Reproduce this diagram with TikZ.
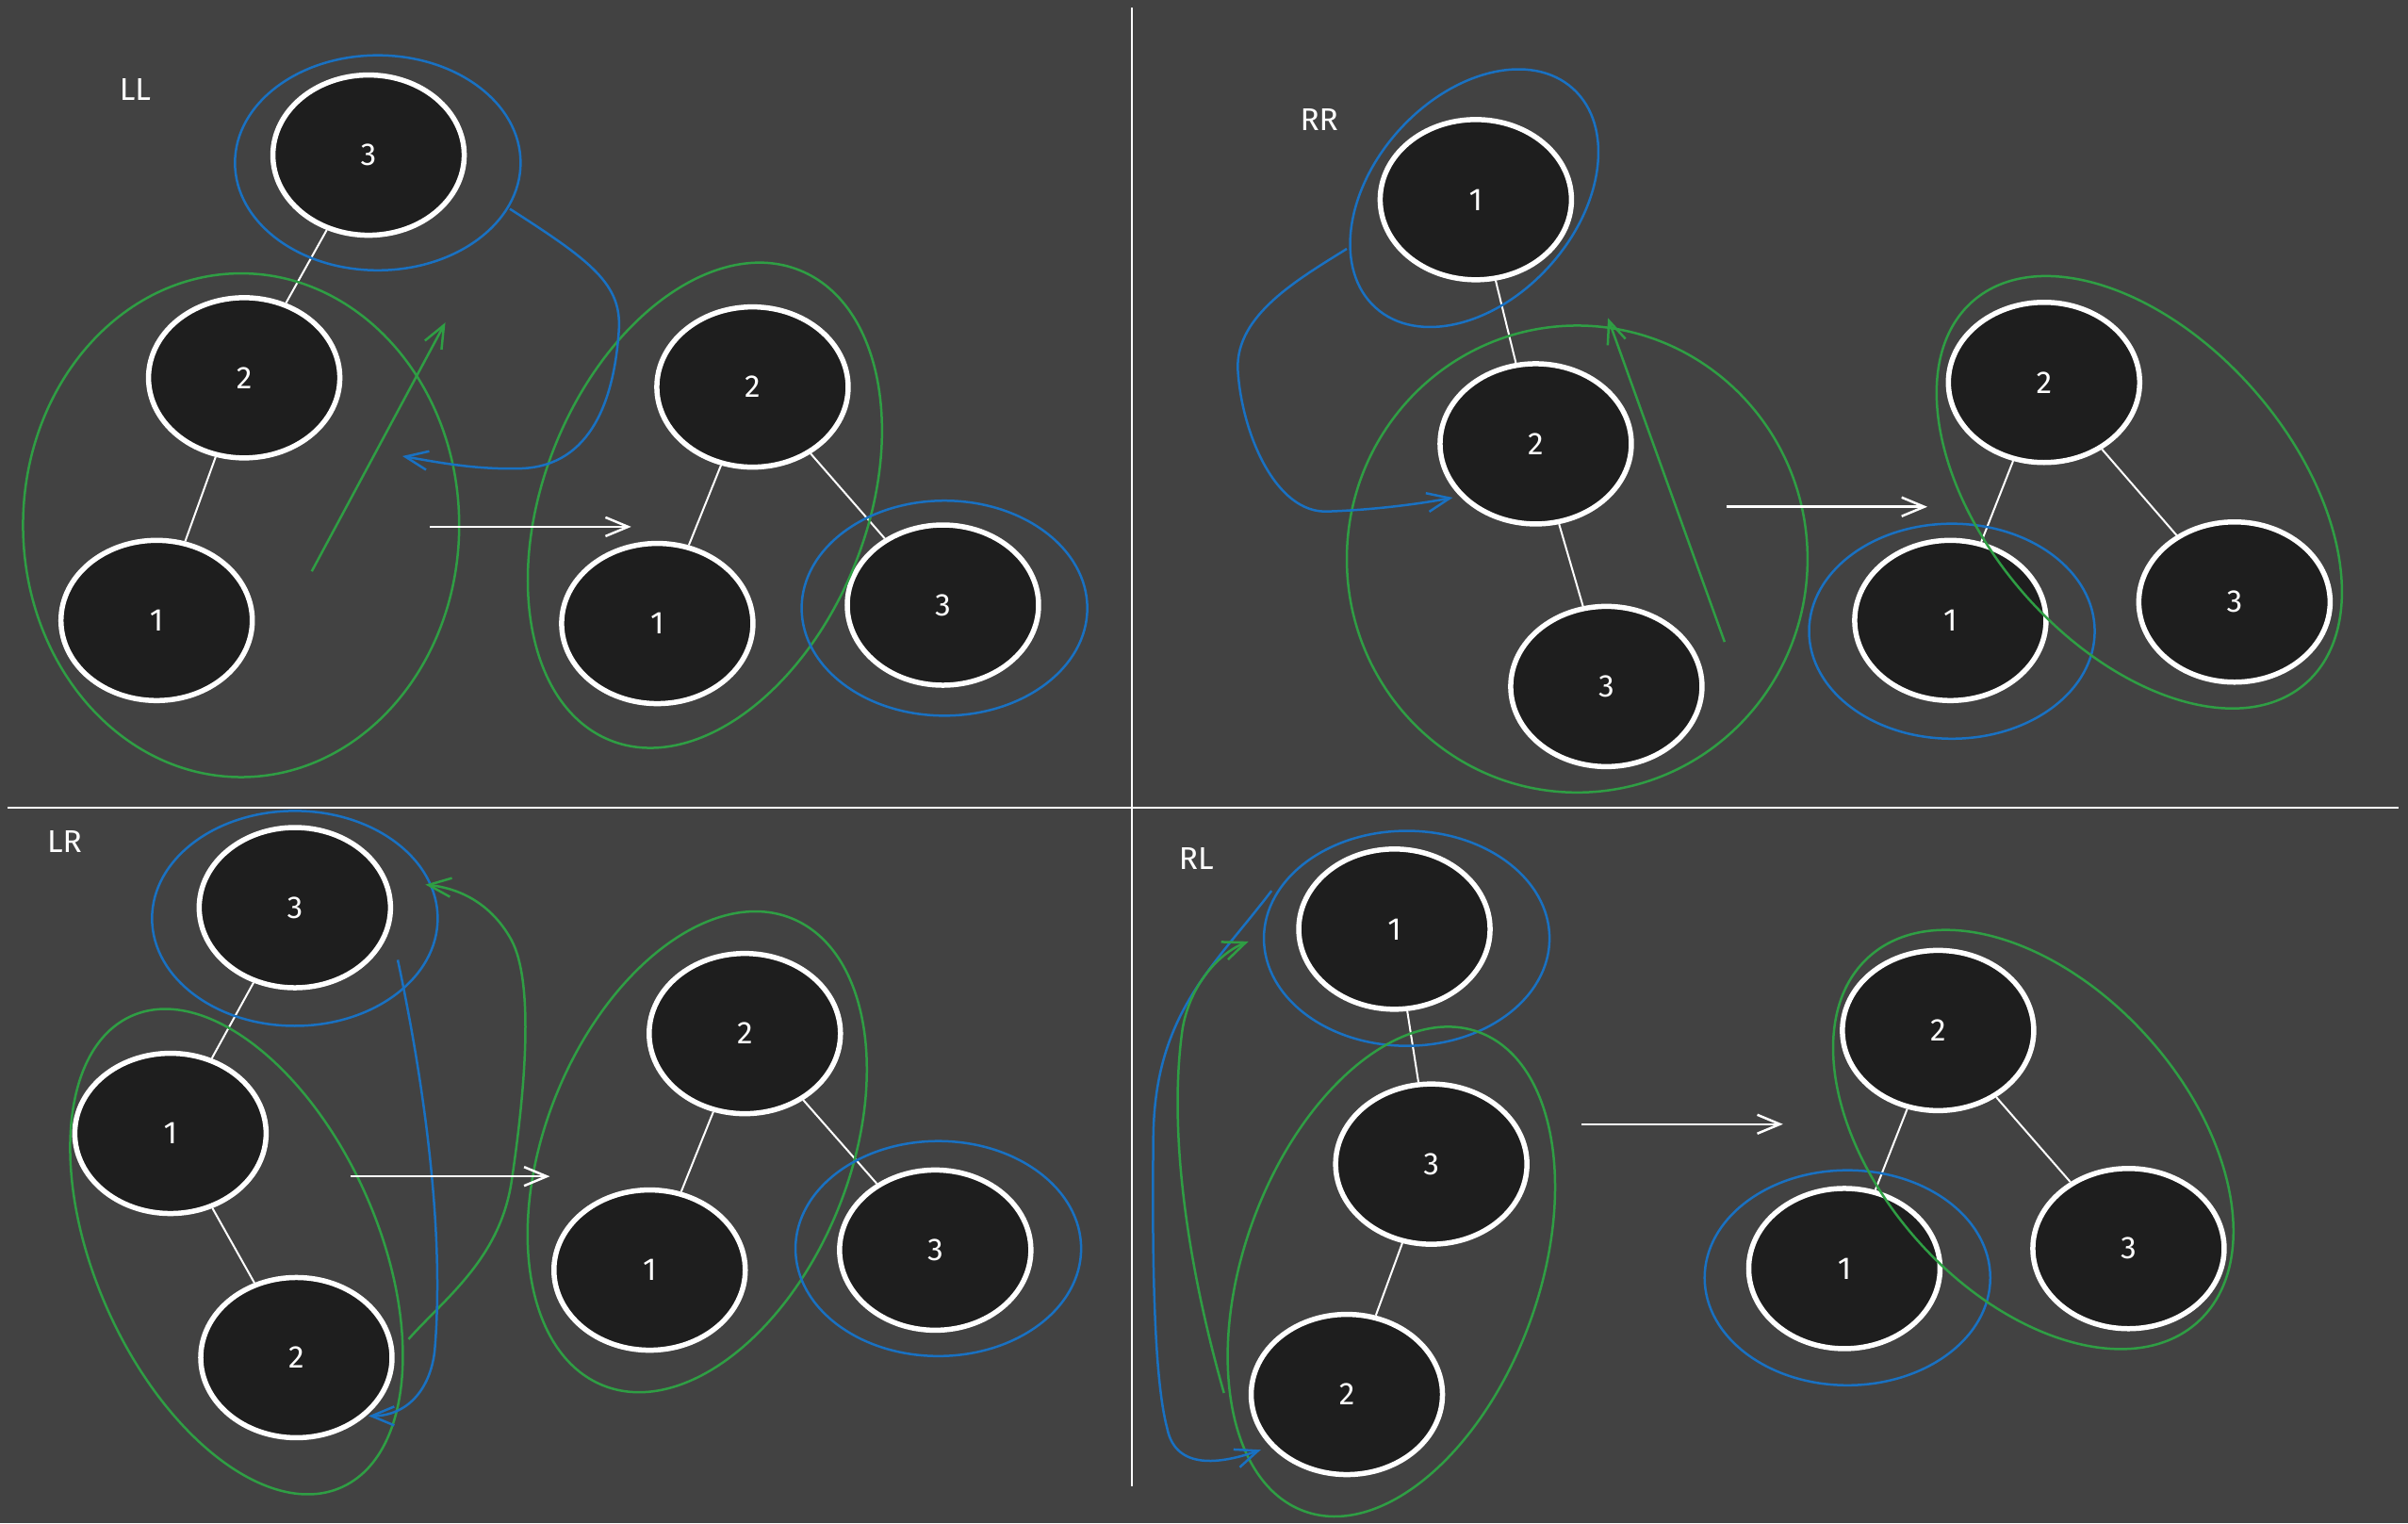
\documentclass[tikz,border=0pt]{standalone}
\usepackage{fontspec}
\setmainfont{Fira Sans}
\usetikzlibrary{shapes.geometric,arrows.meta,calc,positioning}

\definecolor{boardgray}{HTML}{424242}
\definecolor{nodefill}{HTML}{1E1E1E}
\definecolor{ringgreen}{HTML}{2F9E44}
\definecolor{ringblue}{HTML}{1971C2}

\tikzset{
	treenode/.style={ellipse,draw=white,line width=0.55mm,fill=nodefill,
		minimum width=20.3mm,minimum height=17mm,inner sep=0pt,
		text=white,font=\fontsize{9.5}{11}\selectfont},
	link/.style={white,line width=0.2mm},
	ring/.style={line width=0.25mm},
	rotmove/.style={line width=0.25mm,-{Straight Barb[length=2.4mm,width=2mm]}},
	caselabel/.style={text=white,font=\fontsize{9.5}{11}\selectfont},
}

\begin{document}
\begin{tikzpicture}[x=0.16295mm,y=-0.16295mm]
	\fill[boardgray] (0,0) rectangle (1568,992);
	\coordinate (vtop) at (737,5);
	\coordinate (vbot) at (737,968);
	\coordinate (hleft) at (5,526);
	\coordinate (hright) at (1562,526);
	\draw[link] (vtop) -- (vbot) (hleft) -- (hright);
	%
	% LL
	\node[caselabel] (labLL) at (88,58) {LL};
	\node[treenode] (a3) at (240,101) {3};
	\node[treenode] (a2) at (159,246) {2};
	\node[treenode] (a1) at (102,404) {1};
	\node[treenode] (b2) at (490,252) {2};
	\node[treenode] (b1) at (428,406) {1};
	\node[treenode] (b3) at (614,394) {3};
	\draw[link] (a3) -- (a2) (a2) -- (a1) (b2) -- (b1) (b2) -- (b3);
	\coordinate (gB) at ($(b2)!0.5!(b1)$);
	\draw[ring,ringblue] (246,106) ellipse [x radius=93, y radius=70];
	\draw[ring,ringgreen] (157,342) ellipse [x radius=142, y radius=164];
	\draw[ring,ringgreen,rotate around={68:(gB)}] (gB) ellipse [x radius=165, y radius=105];
	\draw[ring,ringblue] (615,396) ellipse [x radius=93, y radius=70];
	\coordinate (llG0) at (203,372);
	\coordinate (llG1) at (290,210);
	\coordinate (llB0) at (332,136);
	\coordinate (llB1) at (262,297);
	\coordinate (llW0) at (280,343);
	\coordinate (llW1) at (411,343);
	\draw[rotmove,ringgreen] (llG0) -- (llG1);
	\draw[rotmove,ringblue] (llB0) .. controls (385,170) and (405,185) .. (403,215)
		.. controls (400,260) and (385,303) .. (340,305)
		.. controls (310,306) and (285,301) .. (llB1);
	\draw[rotmove,white] (llW0) -- (llW1);
	%
	% RR
	\node[caselabel] (labRR) at (859,78) {RR};
	\node[treenode] (c1) at (961,130) {1};
	\node[treenode] (c2) at (1000,289) {2};
	\node[treenode] (c3) at (1046,447) {3};
	\node[treenode] (d2) at (1331,249) {2};
	\node[treenode] (d1) at (1270,404) {1};
	\node[treenode] (d3) at (1455,392) {3};
	\draw[link] (c1) -- (c2) (c2) -- (c3) (d2) -- (d1) (d2) -- (d3);
	\coordinate (gC) at (960,129);
	\coordinate (gD) at ($(d2)!0.5!(d3)$);
	\draw[ring,ringblue,rotate around={48:(gC)}] (gC) ellipse [x radius=96, y radius=66];
	\draw[ring,ringgreen] (1027,364) ellipse [x radius=150, y radius=152];
	\draw[ring,ringblue] (1271,411) ellipse [x radius=93, y radius=70];
	\draw[ring,ringgreen,rotate around={-49:(gD)}] (gD) ellipse [x radius=165, y radius=100];
	\coordinate (rrG0) at (1123,418);
	\coordinate (rrG1) at (1047,207);
	\coordinate (rrB0) at (877,162);
	\coordinate (rrB1) at (946,324);
	\coordinate (rrW0) at (1124,330);
	\coordinate (rrW1) at (1255,330);
	\draw[rotmove,ringgreen] (rrG0) -- (rrG1);
	\draw[rotmove,ringblue] (rrB0) .. controls (845,182) and (805,205) .. (806,240)
		.. controls (808,280) and (830,335) .. (865,333)
		.. controls (895,332) and (925,328) .. (rrB1);
	\draw[rotmove,white] (rrW0) -- (rrW1);
	%
	% LR
	\node[caselabel] (labLR) at (42,548) {LR};
	\node[treenode] (e3) at (192,591) {3};
	\node[treenode] (e1) at (111,738) {1};
	\node[treenode] (e2) at (193,884) {2};
	\node[treenode] (f2) at (485,673) {2};
	\node[treenode] (f1) at (423,827) {1};
	\node[treenode] (f3) at (609,814) {3};
	\draw[link] (e3) -- (e1) (e1) -- (e2) (f2) -- (f1) (f2) -- (f3);
	\coordinate (gE) at (154,815);
	\coordinate (gF) at ($(f2)!0.5!(f1)$);
	\draw[ring,ringblue] (192,598) ellipse [x radius=93, y radius=70];
	\draw[ring,ringgreen,rotate around={-66:(gE)}] (gE) ellipse [x radius=168, y radius=92];
	\draw[ring,ringgreen,rotate around={68:(gF)}] (gF) ellipse [x radius=164, y radius=99];
	\draw[ring,ringblue] (611,813) ellipse [x radius=93, y radius=70];
	\coordinate (lrG0) at (266,872);
	\coordinate (lrG1) at (277,576);
	\coordinate (lrB0) at (259,625);
	\coordinate (lrB1) at (240,922);
	\coordinate (lrW0) at (228,766);
	\coordinate (lrW1) at (358,766);
	\draw[rotmove,ringgreen] (lrG0) .. controls (290,845) and (325,820) .. (333,770)
		.. controls (342,710) and (348,640) .. (333,612)
		.. controls (318,585) and (295,578) .. (lrG1);
	\draw[rotmove,ringblue] (lrB0) .. controls (275,700) and (290,800) .. (283,880)
		.. controls (280,905) and (265,922) .. (lrB1);
	\draw[rotmove,white] (lrW0) -- (lrW1);
	%
	% RL
	\node[caselabel] (labRL) at (779,559) {RL};
	\node[treenode] (g1) at (908,605) {1};
	\node[treenode] (g3) at (932,758) {3};
	\node[treenode] (g2) at (877,908) {2};
	\node[treenode] (h2) at (1262,671) {2};
	\node[treenode] (h1) at (1201,826) {1};
	\node[treenode] (h3) at (1386,813) {3};
	\draw[link] (g1) -- (g3) (g3) -- (g2) (h2) -- (h1) (h2) -- (h3);
	\coordinate (gG) at (906,828);
	\coordinate (gH) at ($(h2)!0.5!(h3)$);
	\draw[ring,ringblue] (916,611) ellipse [x radius=93, y radius=70];
	\draw[ring,ringgreen,rotate around={70:(gG)}] (gG) ellipse [x radius=166, y radius=96];
	\draw[ring,ringblue] (1203,832) ellipse [x radius=93, y radius=70];
	\draw[ring,ringgreen,rotate around={-48:(gH)}] (gH) ellipse [x radius=160, y radius=100];
	\coordinate (rlB0) at (828,580);
	\coordinate (rlB1) at (821,944);
	\coordinate (rlG0) at (797,907);
	\coordinate (rlG1) at (813,613);
	\coordinate (rlW0) at (1030,732);
	\coordinate (rlW1) at (1161,732);
	\draw[rotmove,ringblue] (rlB0) .. controls (790,630) and (752,660) .. (751,740)
		.. controls (750,830) and (752,900) .. (760,930)
		.. controls (765,955) and (790,955) .. (rlB1);
	\draw[rotmove,ringgreen] (rlG0) .. controls (775,830) and (760,740) .. (770,670)
		.. controls (775,640) and (795,620) .. (rlG1);
	\draw[rotmove,white] (rlW0) -- (rlW1);
	\pgfresetboundingbox
	\useasboundingbox (0,0) rectangle (1568,992);
\end{tikzpicture}
\end{document}
